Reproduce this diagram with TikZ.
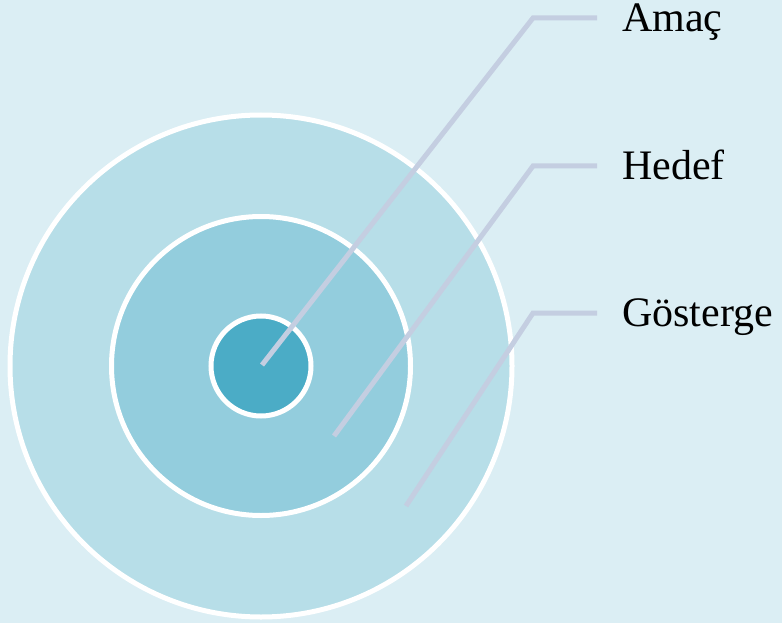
\documentclass[tikz,border=0pt]{standalone}
\usepackage{fontspec}
\setmainfont{Liberation Serif}
\definecolor{bgblue}{RGB}{219,238,244}
\definecolor{ringouter}{RGB}{183,222,232}
\definecolor{ringmid}{RGB}{147,205,221}
\definecolor{ringinner}{RGB}{75,172,198}
\definecolor{leadergray}{RGB}{196,206,225}
\begin{document}
\begin{tikzpicture}[x=1pt,y=-1pt,
  ring/.style={draw=white,line width=5pt},
  leader/.style={draw=leadergray,line width=5pt,shorten >=25pt},
  lbl/.style={anchor=west,inner sep=0pt,text height=27pt,text depth=0pt,
    font=\fontsize{42}{48}\selectfont}]
  \fill[bgblue] (0,0) rectangle (782,623);
  % rings, outer to inner
  \coordinate (centre) at (261,366);
  \fill[ring,fill=ringouter] (centre) circle[radius=251pt];
  \fill[ring,fill=ringmid] (centre) circle[radius=149.5pt];
  \fill[ring,fill=ringinner] (centre) circle[radius=50pt];
  % labels
  \node[lbl] (amac) at (622,18) {Amaç};
  \node[lbl] (hedef) at (622,166) {Hedef};
  \node[lbl] (gosterge) at (622,313) {Gösterge};
  % leader lines
  \coordinate (amac-in) at (262,365);
  \coordinate (amac-bend) at (533,18);
  \coordinate (hedef-in) at (334,436);
  \coordinate (hedef-bend) at (533,166);
  \coordinate (gosterge-in) at (406,506);
  \coordinate (gosterge-bend) at (533,313);
  \draw[leader] (amac-in) -- (amac-bend) -- (amac.west);
  \draw[leader] (hedef-in) -- (hedef-bend) -- (hedef.west);
  \draw[leader] (gosterge-in) -- (gosterge-bend) -- (gosterge.west);
\end{tikzpicture}
\end{document}
